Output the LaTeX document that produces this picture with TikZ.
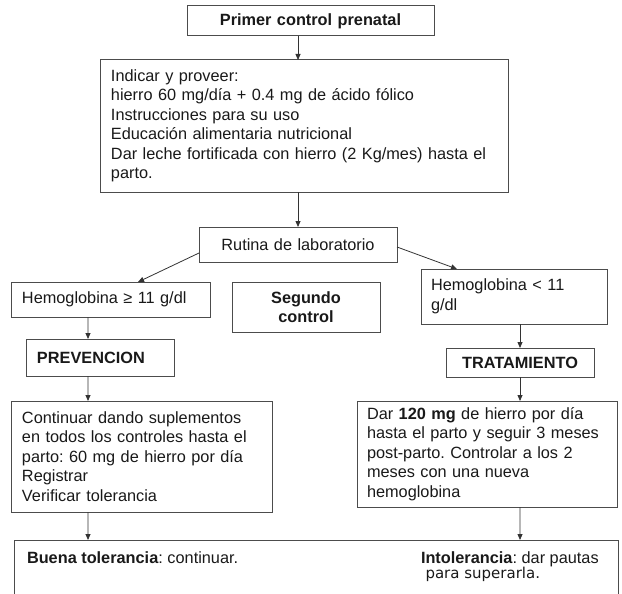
\documentclass[tikz,border=0pt]{standalone}
\usepackage{fontspec}
\setmainfont{Liberation Sans}
\newfontfamily\djv{DejaVu Sans}
\usetikzlibrary{arrows.meta,calc}
\frenchspacing
\definecolor{boxc}{gray}{0.3}
\definecolor{arrc}{gray}{0.2}
\definecolor{txtc}{gray}{0.1}
\newcommand\mainf{\fontsize{16.3bp}{19.5bp}\selectfont}
\tikzset{
  box/.style={draw=boxc, line width=1bp, rectangle, inner xsep=10bp, inner ysep=0pt,
              outer sep=0pt, align=left, font=\mainf, text=txtc},
  boldbox/.style={box, font=\mainf\bfseries},
  plain/.style={inner sep=0pt, outer sep=0pt, font=\mainf, text=txtc, anchor=base west},
  arr/.style={draw=arrc, line width=0.8bp, -{Triangle[length=6bp,width=5bp]}},
}
\begin{document}
\begin{tikzpicture}[x=1bp,y=-1bp]
\useasboundingbox (0,0) rectangle (622,594);
\node[boldbox, text width=227bp, minimum height=30bp, align=center] (primer) at (310.5,21) {Primer control prenatal};
\node[box, text width=387bp, minimum height=132bp] (big) at (304.5,126)
  {Indicar y proveer:\\hierro 60 mg/día + 0.4 mg de ácido fólico\\Instrucciones para su uso\\Educación alimentaria nutricional\\Dar leche fortificada con hierro (2 Kg/mes) hasta el\\parto.};
\node[box, text width=178bp, minimum height=35bp, align=center] (rut) at (298,244.5) {Rutina de laboratorio};
\node[box, text width=178bp, minimum height=35bp] (hge) at (111,299.5) {Hemoglobina ≥ 11 g/dl};
\node[boldbox, text width=128bp, minimum height=50bp, align=center] (seg) at (306,307) {Segundo\\control};
\node[box, text width=166bp, minimum height=55bp] (hlt) at (514,296.5) {Hemoglobina < 11\\g/dl};
\node[boldbox, text width=127bp, minimum height=37bp] (prev) at (100.5,357.5) {PREVENCION};
\node[boldbox, text width=128bp, minimum height=29bp, align=center] (trat) at (520,362.5) {TRATAMIENTO};
\node[box, text width=240bp, minimum height=111bp] (cont) at (142,456.5)
  {Continuar dando suplementos\\en todos los controles hasta el\\parto: 60 mg de hierro por día\\Registrar\\Verificar tolerancia};
\node[box, text width=240bp, minimum height=106bp] (dar) at (487,454)
  {Dar \textbf{120 mg} de hierro por día\\hasta el parto y seguir 3 meses\\post-parto. Controlar a los 2\\meses con una nueva\\hemoglobina};
\node[box, minimum width=604bp, minimum height=62bp, anchor=north west] (fin) at (14,540) {};
\node[plain] (buena) at (27,563) {\textbf{Buena tolerancia}: continuar.};
\node[plain] (intol) at (421,563) {\textbf{Intolerancia}: dar pautas};
\node[plain, font=\djv\fontsize{15bp}{18bp}\selectfont] (para) at (425.5,578) {para superarla.};
\draw[arr] (primer.south -| rut.north) -- (big.north -| rut.north);
\draw[arr] (big.south -| rut.north) -- (rut.north);
\draw[arr] ([yshift=-8.5bp]rut.west) -- ([xshift=27bp]hge.north);
\draw[arr] ([yshift=-2.5bp]rut.east) -- ([xshift=-57bp]hlt.north);
\draw[arr] ([xshift=-23bp]hge.south) -- ([xshift=-12.5bp]prev.north);
\draw[arr] (hlt.south -| trat.north) -- (trat.north);
\draw[arr] ([xshift=-12.5bp]prev.south) -- ([xshift=-54bp]cont.north);
\draw[arr] (trat.south) -- (dar.north -| trat.south);
\draw[arr] ([xshift=-54bp]cont.south) -- ([xshift=74bp]fin.north west);
\draw[arr] (dar.south -| trat.south) -- ([xshift=506bp]fin.north west);
\end{tikzpicture}
\end{document}
